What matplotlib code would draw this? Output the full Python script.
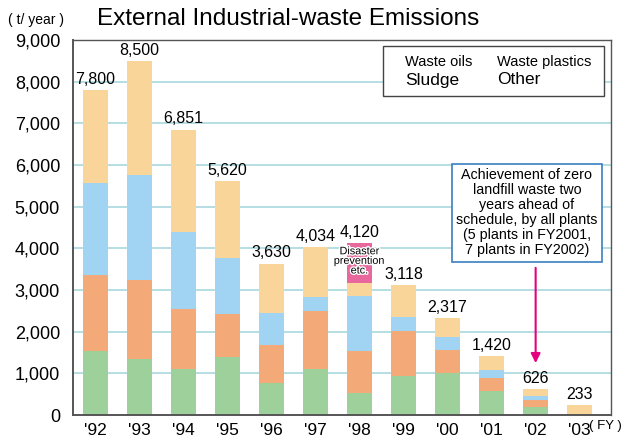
import matplotlib
import matplotlib.pyplot as plt
import matplotlib.patheffects as pe
import numpy as np
from matplotlib.patches import Rectangle

matplotlib.use("Agg")
plt.rcParams["font.family"] = ["Liberation Sans", "DejaVu Sans"]

# Fiscal years and stacked segments (t/year), bottom to top
years = ["'92", "'93", "'94", "'95", "'96", "'97", "'98", "'99", "'00", "'01", "'02", "'03"]
other = [1540, 1340, 1100, 1390, 770, 1100, 530, 940, 1000, 576, 192, 0]
sludge = [1820, 1910, 1440, 1040, 910, 1400, 1010, 1080, 560, 320, 176, 0]
plastics = [2210, 2510, 1860, 1350, 770, 330, 1320, 330, 304, 192, 96, 0]
oils = [2230, 2740, 2451, 1840, 1180, 1204, 320, 768, 453, 332, 162, 233]
disaster = [0, 0, 0, 0, 0, 0, 940, 0, 0, 0, 0, 0]
totals = [7800, 8500, 6851, 5620, 3630, 4034, 4120, 3118, 2317, 1420, 626, 233]

COLORS = {
    "other": "#9dd09a",
    "sludge": "#f4aa78",
    "plastics": "#a0d4f2",
    "oils": "#f9d59a",
    "disaster": "#e8679c",
}

fig = plt.figure(figsize=(6.28, 4.37), dpi=100)
ax = fig.add_axes([0.1155, 0.0503, 0.858, 0.858])

x = np.arange(len(years))
bottom = np.zeros(len(years))
for vals, key in [(other, "other"), (sludge, "sludge"), (plastics, "plastics"),
                  (oils, "oils"), (disaster, "disaster")]:
    ax.bar(x, vals, bottom=bottom, width=0.57, color=COLORS[key], zorder=2)
    bottom += np.array(vals)

# Total labels above each bar
for i, t in enumerate(totals):
    ax.text(i, t + 80, f"{t:,}", ha="center", va="bottom", fontsize=11.5)

# Disaster prevention note on '98 bar
ax.text(6, 3700, "Disaster\nprevention\netc.", ha="center", va="center",
        fontsize=7.8, linespacing=0.95, zorder=4,
        path_effects=[pe.withStroke(linewidth=2, foreground="white")])

ax.set_xlim(-0.52, 11.72)
ax.set_ylim(0, 9000)
ax.set_yticks(range(0, 9001, 1000))
ax.set_yticklabels([f"{v:,}" for v in range(0, 9001, 1000)], fontsize=13)
ax.set_xticks(x)
ax.set_xticklabels(years, fontsize=12.5)
ax.tick_params(length=0, pad=6)
ax.tick_params(axis="y", pad=9)
for v in range(1000, 9000, 1000):
    ax.axhline(v, color="#a9d9de", linewidth=1.2, zorder=1)
for s in ax.spines.values():
    s.set_color("#555555")
    s.set_linewidth(1.0)
ax.spines["left"].set_linewidth(1.4)
ax.spines["bottom"].set_linewidth(1.4)

# Legend box (text only)
leg = Rectangle((383 / 628, 1 - 96 / 437), 221 / 628, 50 / 437,
                transform=fig.transFigure, facecolor="white", edgecolor="#444444",
                linewidth=1.0, zorder=5)
fig.patches.append(leg)
fig.text(405 / 628, 1 - 62 / 437, "Waste oils", fontsize=10.5, va="center", zorder=6)
fig.text(497 / 628, 1 - 62 / 437, "Waste plastics", fontsize=10.5, va="center", zorder=6)
fig.text(405 / 628, 1 - 80 / 437, "Sludge", fontsize=12.5, va="center", zorder=6)
fig.text(497 / 628, 1 - 80 / 437, "Other", fontsize=12.5, va="center", zorder=6)

# Achievement annotation box with arrow to '02
note = ("Achievement of zero\nlandfill waste two\nyears ahead of\n"
        "schedule, by all plants\n(5 plants in FY2001,\n7 plants in FY2002)")
ax.annotate("", xy=(10, 1180), xytext=(10, 3600),
            arrowprops=dict(arrowstyle="-|>", color="#e5007f", lw=1.5,
                            mutation_scale=14), zorder=3)
ax.text(9.8, 4860, note, ha="center", va="center", fontsize=10.3, linespacing=1.1,
        zorder=6,
        bbox=dict(boxstyle="square,pad=0.3", facecolor="white",
                  edgecolor="#3a7fc0", linewidth=1.2))

# Titles and units
fig.text(97 / 628, 1 - 19 / 437, "External Industrial-waste Emissions",
         fontsize=17.5, va="center")
fig.text(8 / 628, 1 - 20 / 437, "( t/ year )", fontsize=10, va="center")
fig.text(589 / 628, 1 - 426 / 437, "( FY )", fontsize=9.5, va="center")

fig.savefig("out.png", dpi=100)
